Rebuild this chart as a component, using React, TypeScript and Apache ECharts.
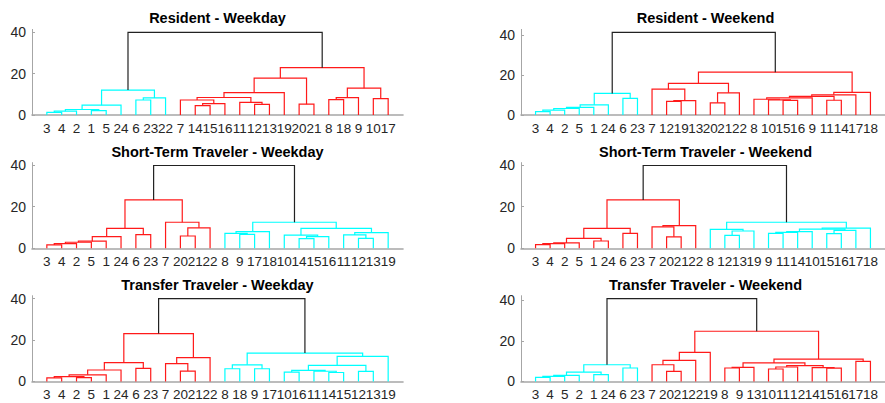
import React, { useEffect, useRef } from "react";
import * as echarts from "echarts";

// A node is a leaf label, or [leftChild, rightChild, mergeHeight]
type Node = number | [Node, Node, number];

const titles = [
  "Resident - Weekday",
  "Resident - Weekend",
  "Short-Term Traveler - Weekday",
  "Short-Term Traveler - Weekend",
  "Transfer Traveler - Weekday",
  "Transfer Traveler - Weekend",
];

const residentWeekday: Node = [
  [
    [[[[3, 4, 1.3], 2, 1.9], [1, 5, 2.2], 2.7], 24, 4.8],
    [[6, 23, 7.3], 22, 8.3],
    12.1,
  ],
  [
    [
      [[[7, [[14, 15, 4.6], 16, 5.5], 7.3], [11, [12, 13, 5.2], 6.1], 8.5], 19, 10.9],
      [20, 21, 5.3],
      17.9,
    ],
    [[[8, 18, 7.5], 9, 8.4], [10, 17, 8.0], 13.0],
    22.9,
  ],
  40.0,
];

const residentWeekend: Node = [
  [[[[[[3, 4, 1.7], 2, 2.5], 5, 3.3], 1, 3.8], 24, 5.1], [6, 23, 8.3], 10.8],
  [
    [[7, [[12, 19, 6.8], 13, 7.2], 12.9], [[20, 21, 6.1], 22, 11.1], 15.8],
    [[[[[8, [10, [15, 16, 7.3], 7.6], 7.9], 9, 8.6], [11, 14, 7.4], 9.3], 17, 10.1], 18, 11.3],
    21.4,
  ],
  41.2,
];

const shortTermWeekday: Node = [
  [
    [[[[[[3, 4, 1.6], 2, 2.2], 5, 2.9], 1, 3.4], 24, 5.6], [6, 23, 6.6], 9.6],
    [7, [[20, 21, 5.9], 22, 9.8], 12.5],
    23.2,
  ],
  [
    [[8, [9, 17, 6.7], 7.2], 18, 8.0],
    [[10, [[14, 15, 4.6], 16, 5.6], 6.3], [[11, [12, 13, 4.8], 6.4], 19, 7.5], 9.6],
    12.5,
  ],
  39.7,
];

const shortTermWeekend: Node = [
  [
    [[[[[3, 4, 1.8], 2, 2.2], 5, 2.6], [1, 24, 3.5], 4.8], [6, 23, 7.2], 9.6],
    [[7, [20, 21, 5.5], 10.3], 22, 10.9],
    23.2,
  ],
  [
    [8, [[12, 13, 6.2], 19, 8.3], 9.1],
    [[[[[9, 11, 7.2], 14, 7.6], 10, 8.0], [[15, 16, 7.0], 17, 8.6], 9.2], 18, 9.7],
    12.5,
  ],
  39.7,
];

const transferWeekday: Node = [
  [
    [[[[[3, 4, 1.7], [2, 5, 1.8], 2.3], 1, 3.2], 24, 5.5], [6, 23, 6.3], 9.1],
    [[7, [20, 21, 5.0], 8.6], 22, 11.5],
    23.1,
  ],
  [
    [[8, 18, 6.1], [9, 17, 6.1], 8.0],
    [[[[10, 16, 4.5], [11, [14, 15, 4.3], 4.9], 5.3], [12, 13, 4.8], 7.7], 19, 12.1],
    13.7,
  ],
  40.0,
];

const transferWeekend: Node = [
  [[[[[3, 4, 2.0], 5, 2.5], 2, 3.0], [1, 24, 3.3], 4.6], [6, 23, 6.6], 8.2],
  [
    [[[7, [20, 21, 4.9], 8.2], 22, 10.4], 19, 14.3],
    [
      [[[8, 9, 6.6], 13, 6.9], [[[10, 11, 6.1], 12, 7.1], [14, [15, 16, 6.5], 6.8], 7.8], 9.1],
      [17, 18, 9.9],
      11.0,
    ],
    24.7,
  ],
  40.8,
];

const trees: Node[] = [
  residentWeekday,
  residentWeekend,
  shortTermWeekday,
  shortTermWeekend,
  transferWeekday,
  transferWeekend,
];

const yTicks = [0, 20, 40];
const yMaxes = [41.4, 42.7, 41.1, 41.1, 41.4, 42.2];

const CYAN = "#00ffff";
const RED = "#ff1a1a";
const ROOT = "#222222";
const panelColors = [
  [ROOT, CYAN, RED],
  [ROOT, CYAN, RED],
  [ROOT, RED, CYAN],
  [ROOT, RED, CYAN],
  [ROOT, RED, CYAN],
  [ROOT, CYAN, RED],
];

function layout(tree: Node) {
  const labels: string[] = [];
  const links: number[][] = [];
  const walk = (n: Node, c: number): [number, number] => {
    if (typeof n === "number") {
      labels.push(String(n));
      return [labels.length, 0];
    }
    const [a, b, h] = n;
    const L = walk(a, c);
    const R = walk(b, c);
    links.push([L[0], L[1], R[0], R[1], h, c]);
    return [(L[0] + R[0]) / 2, h];
  };
  if (typeof tree !== "number") {
    const [a, b, h] = tree;
    const L = walk(a, 1);
    const R = walk(b, 2);
    links.push([L[0], L[1], R[0], R[1], h, 0]);
  }
  return { labels, links };
}

const FONT = "'Liberation Sans', Arial, Helvetica, sans-serif";

export default function App() {
  const ref = useRef<HTMLDivElement>(null);
  useEffect(() => {
    if (!ref.current) return;
    const chart = echarts.init(ref.current, undefined, { renderer: "svg" });
    const lefts = [32, 521];
    const widths = [371, 369];
    const tops = [29.4, 162.6, 295.7];
    const H = 85.7;
    const grids: any[] = [];
    const xAxes: any[] = [];
    const yAxes: any[] = [];
    const series: any[] = [];
    const graphics: any[] = [];
    const titleY = [18, 151.7, 285.3];
    trees.forEach((tree, i) => {
      const col = i % 2;
      const row = Math.floor(i / 2);
      const { labels, links } = layout(tree);
      grids.push({ left: lefts[col], top: tops[row], width: widths[col], height: H });
      xAxes.push({
        type: "value",
        gridIndex: i,
        min: 0,
        max: labels.length + 1,
        interval: 1,
        axisLine: { show: true, lineStyle: { color: "#a6a6a6", width: 1.6 } },
        axisTick: { show: false },
        splitLine: { show: false },
        axisLabel: {
          show: true,
          interval: 0,
          margin: 6,
          color: "#262626",
          fontSize: 13.5,
          fontFamily: FONT,
          showMinLabel: false,
          showMaxLabel: false,
          formatter: (v: number) => (v >= 1 && v <= labels.length ? labels[Math.round(v) - 1] : ""),
        },
      });
      yAxes.push({
        type: "value",
        gridIndex: i,
        min: 0,
        max: yMaxes[i],
        interval: 20,
        axisLine: { show: true, onZero: false, lineStyle: { color: "#a6a6a6", width: 1 } },
        axisTick: { show: true, inside: true, length: 3, lineStyle: { color: "#a6a6a6" }, customValues: yTicks },
        splitLine: { show: false },
        axisLabel: {
          margin: 6,
          color: "#262626",
          fontSize: 14,
          fontFamily: FONT,
          customValues: yTicks,
        },
      });
      const colors = panelColors[i];
      series.push({
        type: "custom",
        xAxisIndex: i,
        yAxisIndex: i,
        silent: true,
        clip: false,
        data: links,
        encode: { x: [0, 2], y: [1, 3, 4] },
        renderItem: (_p: any, api: any) => {
          const p1 = api.coord([api.value(0), api.value(1)]);
          const p2 = api.coord([api.value(0), api.value(4)]);
          const p3 = api.coord([api.value(2), api.value(4)]);
          const p4 = api.coord([api.value(2), api.value(3)]);
          return {
            type: "polyline",
            shape: { points: [p1, p2, p3, p4] },
            style: { stroke: colors[api.value(5)], fill: null, lineWidth: 1.2 },
          };
        },
      });
      graphics.push({
        type: "text",
        x: lefts[col] + widths[col] / 2,
        y: titleY[row],
        style: {
          text: titles[i],
          font: `bold 14.5px ${FONT}`,
          fill: "#000000",
          textAlign: "center",
          textVerticalAlign: "middle",
        },
      });
    });
    chart.setOption({
      animation: false,
      backgroundColor: "#ffffff",
      grid: grids,
      xAxis: xAxes,
      yAxis: yAxes,
      series,
      graphic: graphics,
    });
    return () => chart.dispose();
  }, []);
  return (
    <div
      ref={ref}
      style={{ position: "fixed", left: 0, top: 0, width: 885, height: 403, overflow: "hidden" }}
    />
  );
}
